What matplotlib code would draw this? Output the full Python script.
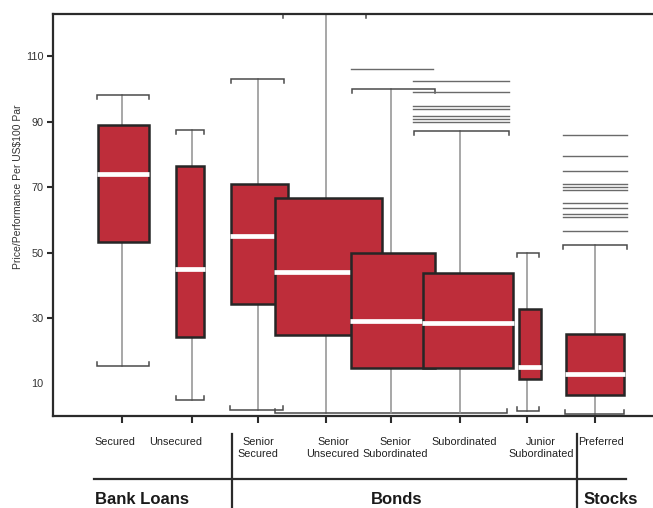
import matplotlib
matplotlib.use("Agg")
import matplotlib.pyplot as plt
from matplotlib.patches import Rectangle
from matplotlib.lines import Line2D

# ---- data -------------------------------------------------------------
labels = ["Secured", "Unsecured", "Senior\nSecured", "Senior\nUnsecured",
          "Senior\nSubordinated", "Subordinated", "Junior\nSubordinated",
          "Preferred"]
groups = ["Bank Loans", "Bonds", "Stocks"]

whisker_low = [15.3, 4.9, 1.8, 0.9, 0.9, 0.9, 1.6, 0.5]
q1 = [53.1, 24.3, 34.2, 24.7, 14.6, 14.6, 11.2, 6.3]
median = [73.9, 45.0, 55.2, 44.1, 29.1, 28.4, 14.9, 12.9]
q3 = [88.9, 76.5, 71.0, 66.6, 50.0, 43.9, 32.7, 25.0]
whisker_high = [98.1, 87.6, 103.1, 123.0, 100.0, 87.3, 49.8, 52.4]

senior_sub_outliers = [106.2]
subordinated_outliers = [102.6, 99.2, 94.7, 94.0, 91.9, 90.9, 90.0]
preferred_outliers = [86.0, 79.6, 75.0, 71.1, 70.2, 69.2, 65.2, 63.5,
                      61.8, 60.8, 56.7]

y_ticks = [10, 30, 50, 70, 90, 110]

# ---- layout (horizontal axis measured in pixel-like units) --------------
W, H = 653, 508
whisker_x = [122, 192, 258, 326, 391, 460, 527, 595]
box_center = [123, 190, 259, 328.5, 393, 468, 529.5, 595]
box_width = [51, 28, 57, 107, 84, 90, 22, 58]
upper_cap = [(97, 149), (176, 204), (231, 284), (283, 366), (352, 435),
             (414, 509), (517, 539), (563, 627)]
lower_cap = [(97, 149), (176, 204), (230, 283), (275, 507), None, None,
             (517, 539), (565, 624)]
outlier_sets = [(senior_sub_outliers, (351, 433)),
                (subordinated_outliers, (413, 509)),
                (preferred_outliers, (563, 627))]
label_x = [115, 176, 258, 333, 395, 464, 541, 601]
group_x = [142, 397, 611]

FACE = "#BE2D3A"
EDGE = "#262626"
WHISK = "#8f8f8f"
CAP = "#4a4a4a"
INK = "#2b2b2b"
plt.rcParams["font.family"] = ["Liberation Sans", "DejaVu Sans"]

fig = plt.figure(figsize=(W / 100, H / 100), dpi=100)
ax = fig.add_axes([53 / W, (H - 416) / H, 600 / W, (416 - 14) / H])
ax.set_xlim(53, 653)
ax.set_ylim(0, 123)

tick_len = 1.2  # height of the small end ticks on the caps


def bracket(x0, x1, y, down):
    d = -tick_len if down else tick_len
    ax.plot([x0, x0, x1, x1], [y + d, y, y, y + d], color=CAP, lw=1.1,
            solid_joinstyle="miter", zorder=1, clip_on=False)


for i in range(len(labels)):
    xw = whisker_x[i]
    # whiskers
    ax.plot([xw, xw], [q3[i], whisker_high[i]], color=WHISK, lw=1.1, zorder=1,
            clip_on=False)
    ax.plot([xw, xw], [whisker_low[i], q1[i]], color=WHISK, lw=1.1, zorder=1)
    bracket(*upper_cap[i], whisker_high[i], down=True)
    if lower_cap[i] is not None:
        bracket(*lower_cap[i], whisker_low[i], down=False)
    # box
    left = box_center[i] - box_width[i] / 2
    z = 2 + i
    ax.add_patch(Rectangle((left, q1[i]), box_width[i], q3[i] - q1[i],
                           facecolor=FACE, edgecolor=EDGE, lw=1.8, zorder=z))
    ax.plot([left - 0.8, left + box_width[i] + 0.8], [median[i]] * 2,
            color="white", lw=3.4, solid_capstyle="butt", zorder=z + 0.5)

for values, (x0, x1) in outlier_sets:
    for v in values:
        ax.plot([x0, x1], [v, v], color="#6a6a6a", lw=1.0, zorder=1)

# ---- axes styling -----------------------------------------------------
for side in ["top", "left", "bottom"]:
    ax.spines[side].set_color(INK)
    ax.spines[side].set_linewidth(1.6)
    ax.spines[side].set_zorder(20)
ax.spines["right"].set_visible(False)

ax.set_yticks(y_ticks)
ax.set_yticklabels([str(t) for t in y_ticks])
ax.tick_params(axis="y", direction="out", length=4, width=1.5, color=INK,
               labelsize=7.8, labelcolor="#333333", pad=3)
ax.yaxis.get_major_ticks()[0].tick1line.set_visible(False)

ax.set_xticks(whisker_x)
ax.set_xticklabels([""] * len(whisker_x))
ax.tick_params(axis="x", direction="out", length=5, width=1.5, color=INK)

fig.text(18 / W, 1 - 187 / H, "Price/Performance Per US$100 Par",
         rotation=90, ha="center", va="center", fontsize=7.5, color="#333333")

# category labels
for lab, x in zip(labels, label_x):
    fig.text(x / W, 1 - 437 / H, lab, ha="center", va="top", fontsize=7.8,
             color="#222222", linespacing=1.3, multialignment="center")

# group separators and names
fig.add_artist(Line2D([94 / W, 626 / W], [1 - 479 / H] * 2, color=INK,
                      lw=1.6))
for xv in [232, 577]:
    fig.add_artist(Line2D([xv / W] * 2, [1 - 434 / H, 0], color=INK,
                          lw=1.6))
for g, x in zip(groups, group_x):
    fig.text(x / W, 1 - 499 / H, g, ha="center", va="center", fontsize=12,
             fontweight="bold", color="#1a1a1a")

fig.savefig("out.png", dpi=100)
